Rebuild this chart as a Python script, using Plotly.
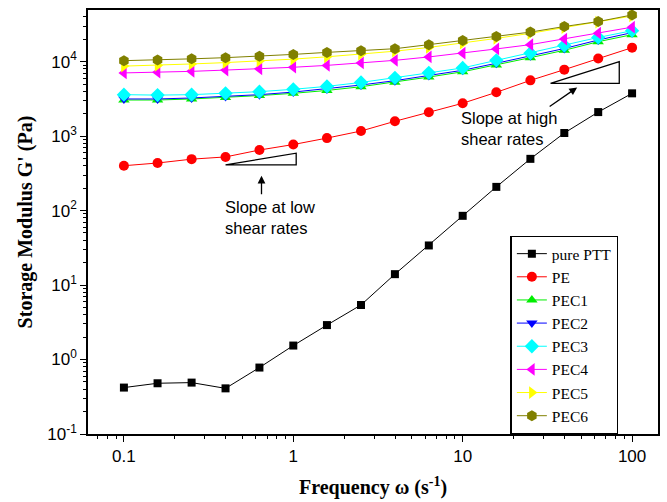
import numpy as np
import plotly.graph_objects as go

# ---- data ----
freq = [0.1, 0.158, 0.251, 0.398, 0.631, 1.0, 1.58, 2.51, 3.98, 6.31,
        10.0, 15.8, 25.1, 39.8, 63.1, 100.0]

pure_ptt = [0.42, 0.48, 0.49, 0.41, 0.78, 1.54, 2.9, 5.4, 14, 34,
            85, 208, 495, 1100, 2100, 3750]
pe = [400, 435, 490, 525, 650, 770, 940, 1170, 1580, 2090,
      2760, 3870, 5600, 7800, 11000, 15400]
pec1 = [3050, 3050, 3150, 3300, 3500, 3750, 4100, 4600, 5300, 6200,
        7300, 9000, 11300, 14200, 18500, 23000]
pec2 = [3150, 3150, 3250, 3400, 3600, 3900, 4300, 4850, 5550, 6500,
        7650, 9500, 12000, 15000, 19500, 24500]
pec3 = [3600, 3550, 3600, 3750, 3950, 4250, 4650, 5250, 6050, 7060,
        8230, 10400, 13000, 16400, 21100, 26000]
pec4 = [7050, 7200, 7400, 7700, 8000, 8400, 8900, 9600, 10400, 11550,
        13000, 14800, 16900, 20100, 24100, 29000]
pec5 = [8700, 8900, 9300, 9700, 10200, 10800, 11600, 12600, 13800, 15500,
        17700, 20500, 24000, 28500, 34000, 41000]
pec6 = [10300, 10500, 10900, 11300, 11800, 12500, 13300, 14000, 14900, 16900,
        19200, 21700, 24900, 29600, 34500, 42300]

series_names = ["pure PTT", "PE", "PEC1", "PEC2", "PEC3", "PEC4", "PEC5", "PEC6"]
series_values = [pure_ptt, pe, pec1, pec2, pec3, pec4, pec5, pec6]

x_tickvals = [0.1, 1, 10, 100]
x_ticktext = ["0.1", "1", "10", "100"]
y_tickvals = [0.1, 1, 10, 100, 1000, 10000]
y_ticktext = ["10<sup>-1</sup>", "10<sup>0</sup>", "10<sup>1</sup>",
              "10<sup>2</sup>", "10<sup>3</sup>", "10<sup>4</sup>"]

# slope guide triangles (annotation geometry)
low_tri_x = [0.398, 1.04, 1.04, 0.398]
low_tri_y = [410, 410, 590, 410]
high_tri_x = [33, 84, 84, 33]
high_tri_y = [5090, 5090, 10000, 5090]

# ---- styles ----
colors = ["#000000", "#ff0000", "#00ee00", "#0000ff", "#00ffff",
          "#ff00ff", "#ffff00", "#808000"]
symbols = ["square", "circle", "triangle-up", "triangle-down", "diamond",
           "triangle-left", "triangle-right", "hexagon"]
sizes = [8, 10, 10, 10, 11, 11, 11, 11]

serif = "Times New Roman, Liberation Serif, serif"
sans = "Arial, Liberation Sans, sans-serif"

fig = go.Figure()
for name, vals, c, s, sz in zip(series_names, series_values, colors, symbols, sizes):
    fig.add_trace(go.Scatter(
        x=freq, y=vals, name=name, mode="lines+markers",
        line=dict(color=c, width=1),
        marker=dict(symbol=s, size=sz, color=c, line=dict(width=0)),
    ))

for tx, ty in [(low_tri_x, low_tri_y), (high_tri_x, high_tri_y)]:
    fig.add_trace(go.Scatter(x=tx, y=ty, mode="lines", showlegend=False,
                             line=dict(color="black", width=1.3),
                             hoverinfo="skip"))

axis_common = dict(
    type="log", showgrid=False, zeroline=False,
    showline=True, linecolor="black", linewidth=1.5, mirror=True,
    ticks="outside", ticklen=6, tickwidth=1.3, tickcolor="black",
    tickfont=dict(family=sans, size=17, color="black"),
    minor=dict(ticks="outside", ticklen=3.5, tickwidth=1.2, tickcolor="black",
               dtick="D1", showgrid=False),
)

fig.update_layout(
    width=667, height=502,
    margin=dict(l=88, r=7, t=10, b=64),
    paper_bgcolor="white", plot_bgcolor="white",
    xaxis=dict(axis_common, range=[-1.212, 2.153],
               tickvals=x_tickvals, ticktext=x_ticktext,
               title=dict(text="Frequency ω (s<sup>-1</sup>)",
                          font=dict(family=serif, size=20, color="black", weight="bold"),
                          standoff=15)),
    yaxis=dict(axis_common, range=[-1, 4.693],
               tickvals=y_tickvals, ticktext=y_ticktext,
               title=dict(text="Storage Modulus G' (Pa)",
                          font=dict(family=serif, size=20, color="black", weight="bold"),
                          standoff=9)),
    legend=dict(x=0.741, y=0.468, xanchor="left", yanchor="top",
                bgcolor="white", bordercolor="black", borderwidth=1.5,
                font=dict(family=serif, size=15.5, color="black")),
    showlegend=True,
)

ann_font = dict(family=sans, size=16.5, color="black")
fig.add_annotation(x=np.log10(0.382), y=1.907, xref="x", yref="y",
                   text="Slope at low<br>shear rates", showarrow=False,
                   xanchor="left", yanchor="middle", align="left", font=ann_font)
fig.add_annotation(x=np.log10(9.46), y=3.10, xref="x", yref="y",
                   text="Slope at high<br>shear rates", showarrow=False,
                   xanchor="left", yanchor="middle", align="left", font=ann_font)
# arrows
fig.add_annotation(x=np.log10(0.649), y=2.467, xref="x", yref="y", text="",
                   showarrow=True, arrowhead=2, arrowsize=1.2, arrowwidth=1.3,
                   arrowcolor="black", ax=0, ay=20)
fig.add_annotation(x=np.log10(47.4), y=3.653, xref="x", yref="y", text="",
                   showarrow=True, arrowhead=2, arrowsize=1.2, arrowwidth=1.3,
                   arrowcolor="black", ax=-29, ay=20)

fig.write_html("out.html")
